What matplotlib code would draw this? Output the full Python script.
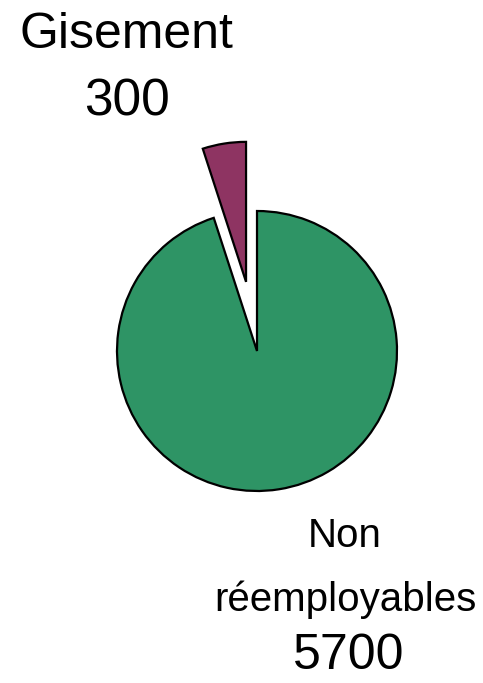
import matplotlib.pyplot as plt

labels = ["Gisement", "Non\nréemployables"]
values = [300, 5700]
colors = ["#8e3462", "#2e9465"]
explode = [0.5, 0]

plt.rcParams['font.family'] = ['Liberation Sans', 'DejaVu Sans']

W, H = 483, 683
fig = plt.figure(figsize=(W / 100, H / 100), dpi=100)
ax = fig.add_axes([0, 0, 1, 1])

# pie centre and radius in pixels
cx, cy, r = 257, 351, 140
ax.pie(values, colors=colors, explode=explode, startangle=90,
       counterclock=True, radius=1,
       wedgeprops=dict(edgecolor="black", linewidth=1.6))
ax.set_xlim(-cx / r, (W - cx) / r)
ax.set_ylim((cy - H) / r, cy / r)
ax.axis("off")

def px(x, y):
    return x / W, 1 - y / H

fig.text(*px(126, 35), labels[0], ha="center", va="center", fontsize=36)
fig.text(*px(127, 102), str(values[0]), ha="center", va="center", fontsize=37)
fig.text(*px(345, 536), "Non", ha="center", va="center", fontsize=29)
fig.text(*px(345, 600), "réemployables", ha="center", va="center", fontsize=29)
fig.text(*px(349, 656), str(values[1]), ha="center", va="center", fontsize=36)

fig.savefig("out.png", dpi=100)
